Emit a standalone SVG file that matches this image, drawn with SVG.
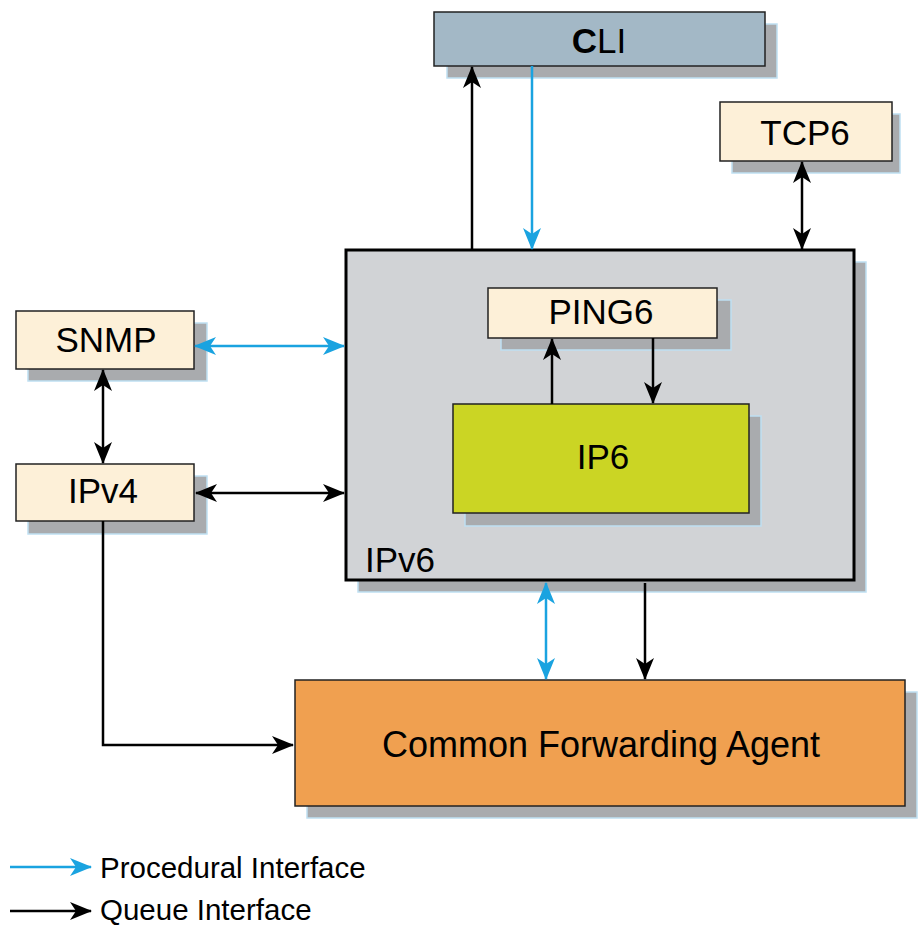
<svg xmlns="http://www.w3.org/2000/svg" width="923" height="935" viewBox="0 0 923 935">
<style>
.sh{fill:#a9abae;stroke:#bfe0f2;stroke-width:1.5}
.bx{stroke:#222;stroke-width:1.5}
.beige{fill:#fdf0d8}
.t{font-family:"Liberation Sans",Arial,sans-serif;font-size:35px;fill:#000;text-anchor:middle}
.lg{font-family:"Liberation Sans",Arial,sans-serif;font-size:29.5px;fill:#000}
.k{fill:none;stroke:#000;stroke-width:2.5}
.b{fill:none;stroke:#1aa3e0;stroke-width:2.5}
</style>
<defs>
<marker id="ak" markerUnits="userSpaceOnUse" viewBox="0 0 22 18" markerWidth="22" markerHeight="18" refX="21" refY="9" orient="auto-start-reverse"><path d="M0,0 L22,9 L0,18 L6,9 z" fill="#000"/></marker>
<marker id="ab" markerUnits="userSpaceOnUse" viewBox="0 0 22 18" markerWidth="22" markerHeight="18" refX="21" refY="9" orient="auto-start-reverse"><path d="M0,0 L22,9 L0,18 L6,9 z" fill="#1aa3e0"/></marker>
</defs>

<g id="ipv6">
<rect class="sh" x="358" y="262" width="508" height="330"/>
<rect x="346" y="250" width="508" height="330" fill="#d1d3d6" stroke="#000" stroke-width="3"/>
<text class="t" x="365" y="572" style="text-anchor:start">IPv6</text>
</g>
<g id="cli">
<rect class="sh" x="447" y="24" width="330" height="54"/>
<rect class="bx" x="434" y="12" width="331" height="54" fill="#a3b8c6"/>
<text class="t" x="599" y="53"><tspan font-weight="bold">C</tspan>LI</text>
</g>
<g id="tcp6">
<rect class="sh" x="732" y="114" width="168" height="59"/>
<rect class="bx beige" x="720" y="102" width="172" height="59"/>
<text class="t" x="805" y="145">TCP6</text>
</g>
<g id="snmp">
<rect class="sh" x="28" y="323" width="179" height="58"/>
<rect class="bx beige" x="16" y="311" width="178" height="58"/>
<text class="t" x="106" y="352">SNMP</text>
</g>
<g id="ipv4">
<rect class="sh" x="28" y="476" width="179" height="58"/>
<rect class="bx beige" x="16" y="464" width="178" height="57"/>
<text class="t" x="103" y="503">IPv4</text>
</g>
<g id="ping6">
<rect class="sh" x="501" y="300" width="230" height="50"/>
<rect class="bx beige" x="488" y="288" width="229" height="50"/>
<text class="t" x="601" y="324">PING6</text>
</g>
<g id="ip6">
<rect class="sh" x="465" y="416" width="296" height="110"/>
<rect class="bx" x="453" y="404" width="296" height="109" fill="#cbd524"/>
<text class="t" x="603" y="469">IP6</text>
</g>
<g id="cfa">
<rect class="sh" x="307" y="692" width="610" height="126"/>
<rect class="bx" x="295" y="680" width="610" height="126" fill="#f0a050"/>
<text class="t" x="601" y="757" style="font-size:36px">Common Forwarding Agent</text>
</g>

<g id="connectors">
<line class="k" x1="472" y1="250" x2="472" y2="67" marker-end="url(#ak)"/>
<line class="b" x1="532" y1="66" x2="532" y2="249" marker-end="url(#ab)"/>
<line class="k" x1="802" y1="162" x2="802" y2="249" marker-start="url(#ak)" marker-end="url(#ak)"/>
<line class="b" x1="195" y1="346" x2="344" y2="346" marker-start="url(#ab)" marker-end="url(#ab)"/>
<line class="k" x1="103" y1="370" x2="103" y2="463" marker-start="url(#ak)" marker-end="url(#ak)"/>
<line class="k" x1="196" y1="493" x2="344" y2="493" marker-start="url(#ak)" marker-end="url(#ak)"/>
<polyline class="k" points="103,521 103,745 293,745" marker-end="url(#ak)"/>
<line class="k" x1="552" y1="404" x2="552" y2="339" marker-end="url(#ak)"/>
<line class="k" x1="653" y1="338" x2="653" y2="403" marker-end="url(#ak)"/>
<line class="b" x1="546" y1="583" x2="546" y2="679" marker-start="url(#ab)" marker-end="url(#ab)"/>
<line class="k" x1="645" y1="583" x2="645" y2="679" marker-end="url(#ak)"/>
</g>

<g id="legend">
<line class="b" x1="10" y1="867" x2="91" y2="867" marker-end="url(#ab)"/>
<text class="lg" x="100" y="878">Procedural Interface</text>
<line class="k" x1="10" y1="911" x2="91" y2="911" marker-end="url(#ak)"/>
<text class="lg" x="100" y="920">Queue Interface</text>
</g>
</svg>
